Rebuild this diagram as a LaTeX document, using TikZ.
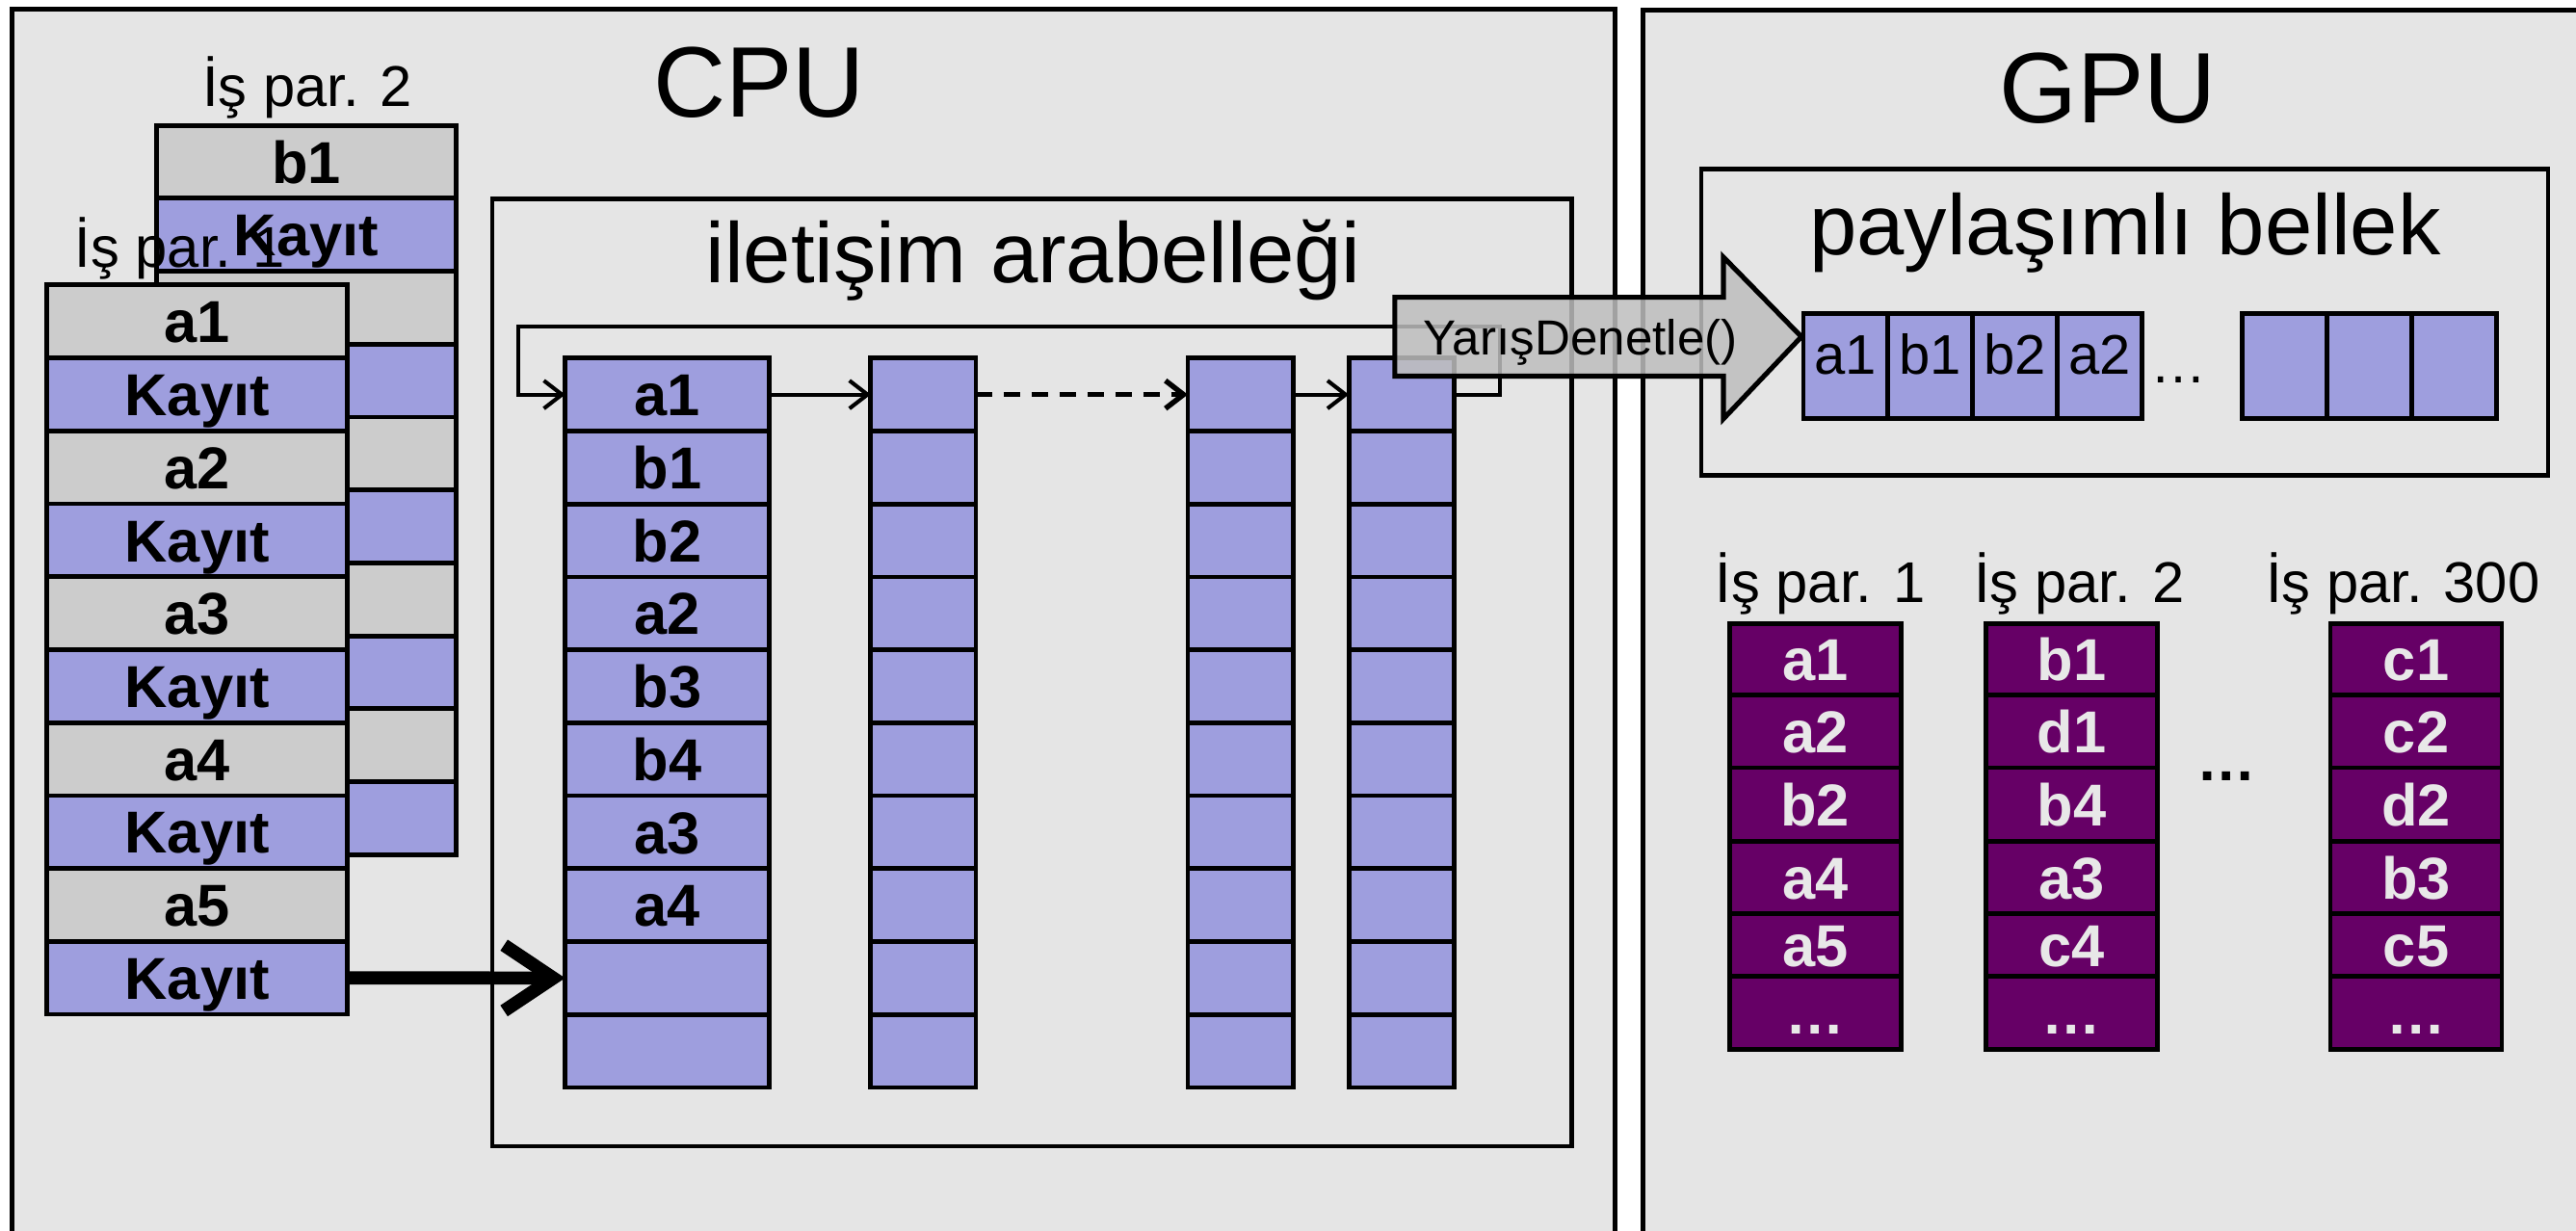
\documentclass[tikz,border=0pt]{standalone}
\usepackage{fontspec}
\setmainfont{Liberation Sans}
\usetikzlibrary{arrows.meta}
\definecolor{panel}{HTML}{E5E5E5}
\definecolor{cellblue}{HTML}{9E9EDE}
\definecolor{cellgray}{HTML}{CCCCCC}
\definecolor{darkpurple}{HTML}{660066}
\definecolor{lighttext}{HTML}{E8E8E8}
\definecolor{arrowgray}{HTML}{BEBEBE}
\begin{document}
\begin{tikzpicture}[x=1pt,y=-1pt,
  panelbox/.style={draw, line width=3pt, fill=panel},
  innerbox/.style={draw, line width=2.6pt, fill=panel},
  cellbase/.style={draw, line width=2.8pt, inner sep=0pt, outer sep=0pt, anchor=north west,
     text height=26pt, text depth=0pt, font=\fontsize{36}{36}\selectfont\bfseries},
  bluecell/.style={cellbase, fill=cellblue},
  graycell/.style={cellbase, fill=cellgray},
  gpucell/.style={cellbase, fill=darkpurple, text=lighttext},
  shmcell/.style={draw, line width=2.8pt, fill=cellblue, inner sep=0pt, outer sep=0pt, anchor=north west,
     minimum width=51.5pt, minimum height=64pt, text height=36.7pt, text depth=27.3pt,
     font=\fontsize{34}{34}\selectfont},
  bigtitle/.style={font=\fontsize{61}{61}\selectfont, anchor=base, inner sep=0pt},
  boxtitle/.style={font=\fontsize{52}{52}\selectfont, anchor=base, inner sep=0pt},
  thread/.style={font=\fontsize{35}{35}\selectfont, anchor=base west, inner sep=0pt},
  link/.style={line width=2.4pt, -{Straight Barb[length=11pt,width=17pt]}},
]
\useasboundingbox (0,0) rectangle (1568,749);
\fill[white] (0,0) rectangle (1568,749);

% panels
\path[panelbox] (7.5,5.5) rectangle (983,800);
\path[panelbox] (1000,6) rectangle (1600,800);
\node[bigtitle] (cputitle) at (462,71) {CPU};
\node[bigtitle] (gputitle) at (1283,75) {GPU};

% communication buffer
\path[innerbox] (299.6,121.2) rectangle (956.8,697.7);
\node[boxtitle] (commtitle) at (629,172) {iletişim arabelleği};

\foreach \lab [count=\i] in {a1,b1,b2,a2,b3,b4,a3,a4,{},{}} {
  \node[bluecell, minimum width=124pt, minimum height=44.4pt] (ba\i) at (344,{218+44.4*(\i-1)}) {\lab};
  \node[bluecell, minimum width=64pt, minimum height=44.4pt] (bb\i) at (530,{218+44.4*(\i-1)}) {};
  \node[bluecell, minimum width=64pt, minimum height=44.4pt] (bc\i) at (723,{218+44.4*(\i-1)}) {};
  \node[bluecell, minimum width=64pt, minimum height=44.4pt] (bd\i) at (821,{218+44.4*(\i-1)}) {};
}
\draw[link] (ba1.east) -- (bb1.west);
\draw[link, line width=3.2pt, dash pattern=on 10pt off 7pt] (bb1.east) -- (bc1.west);
\draw[link] (bc1.east) -- (bd1.west);
\coordinate (loopR) at (913,198.8);
\coordinate (loopL) at (315.5,198.8);
\draw[link] (bd1.east) -| (loopR) -- (loopL) |- (ba1.west);

% thread 2 stack (back)
\node[thread] (lab2) at (123,65) {İş par. 2};
\foreach \lab/\sty [count=\i] in {b1/graycell,Kayıt/bluecell,/graycell,/bluecell,/graycell,/bluecell,/graycell,/bluecell,/graycell,/bluecell} {
  \node[\sty, minimum width=182.4pt, minimum height=44.4pt] (tb\i) at (95.3,{76.3+44.4*(\i-1)}) {\lab};
}
\node[thread] (lab1) at (45.4,163) {İş par. 1};
% thread 1 stack (front)
\foreach \lab/\sty [count=\i] in {a1/graycell,Kayıt/bluecell,a2/graycell,Kayıt/bluecell,a3/graycell,Kayıt/bluecell,a4/graycell,Kayıt/bluecell,a5/graycell,Kayıt/bluecell} {
  \node[\sty, minimum width=182.8pt, minimum height=44.4pt] (ta\i) at (28.6,{173.5+44.4*(\i-1)}) {\lab};
}
\draw[line width=8pt, -{Straight Barb[length=30pt,width=40pt]}] (ta10.east) -- (ba9.west);

% shared memory
\path[innerbox] (1035.6,103) rectangle (1551,289.5);
\node[boxtitle] (shmtitle) at (1293.5,155) {paylaşımlı bellek};
\foreach \lab [count=\i] in {a1,b1,b2,a2} {
  \node[shmcell] (sm\i) at ({1097.7+51.5*(\i-1)},191) {\lab};
}
\node[font=\fontsize{34}{34}\selectfont, anchor=base west, inner sep=0pt] (smdots) at (1309,233) {…};
\foreach \i in {1,2,3} {
  \node[shmcell] (sn\i) at ({1365+51.5*(\i-1)},191) {};
}

% GPU threads
\node[thread] (g1lab) at (1044,367) {İş par. 1};
\node[thread] (g2lab) at (1201.5,367) {İş par. 2};
\node[thread] (g3lab) at (1379,367) {İş par. 300};
\foreach \ya/\h/\la/\lb/\lc [count=\i] in {379.6/43.4/a1/b1/c1, 423/44.4/a2/d1/c2, 467.4/44.6/b2/b4/d2, 512/44.3/a4/a3/b3, 556.3/38.1/a5/c4/c5, 594.4/44.6/…/…/…} {
  \node[gpucell, minimum width=104.2pt, minimum height=\h pt] (ga\i) at (1052.8,\ya) {\la};
  \node[gpucell, minimum width=104pt, minimum height=\h pt] (gb\i) at (1209,\ya) {\lb};
  \node[gpucell, minimum width=104.3pt, minimum height=\h pt] (gc\i) at (1418.5,\ya) {\lc};
}
\node[font=\fontsize{36}{36}\selectfont\bfseries, anchor=base, inner sep=0pt] (gdots) at (1355,475) {…};

% YarisDenetle arrow
\draw[line width=3pt, fill=arrowgray, fill opacity=0.85, miter limit=10]
  (849,181) -- (1049,181) -- (1049,156.5) -- (1096.5,205) -- (1049,255) -- (1049,229) -- (849,229) -- cycle;
\node[font=\fontsize{30}{30}\selectfont, anchor=base, inner sep=0pt] (race) at (962,215.8) {YarışDenetle()};
\end{tikzpicture}
\end{document}
